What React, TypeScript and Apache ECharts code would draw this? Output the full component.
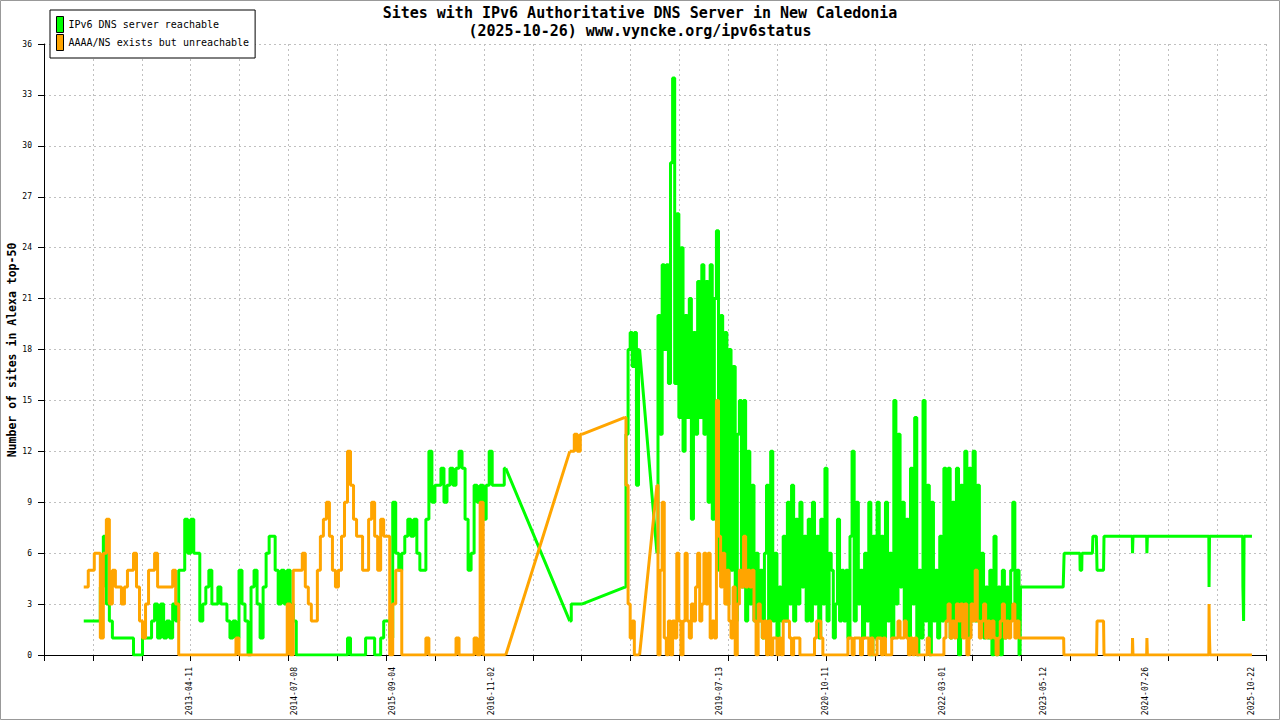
import React, { useEffect, useRef } from "react";
import * as echarts from "echarts";

const TITLE = "Sites with IPv6 Authoritative DNS Server in New Caledonia";
const SUBTITLE = "(2025-10-26) www.vyncke.org/ipv6status";
const Y_NAME = "Number of sites in Alexa top-50";
const SERIES_NAMES = ["IPv6 DNS server reachable", "AAAA/NS exists but unreachable"];
const SERIES_COLORS = ["#00ff00", "#ffa500"];

const X_LABELS = [
  "2013-04-11", "2014-07-08", "2015-09-04", "2016-11-02", "2019-07-13",
  "2020-10-11", "2022-03-01", "2023-05-12", "2024-07-26", "2025-10-22",
];
const Y_MIN = 0;
const Y_MAX = 36;
const Y_STEP = 3;

// x axis: 25 equal tick intervals of 210.8 days
const TICK_DAYS = 210.8;
const TICK_FIRST = 72;
const TICK_LAST = 97;

// Run A: 2012-01 .. 2017-01, one sample every 13 days
const RUN_A_START = "2012-01-10";
const RUN_A_STEP = 13;
const RUN_A_GREEN = [
  2, 2, 2, 2, 2, 2, 4, 7, 3, 2, 1, 1, 1, 1, 1, 1, 1, 0, 0, 0,
  1, 1, 1, 2, 3, 1, 3, 1, 2, 1, 3, 2, 5, 5, 8, 6, 8, 6, 6, 2,
  3, 4, 5, 3, 3, 4, 3, 3, 2, 1, 2, 1, 5, 3, 2, 0, 4, 5, 3, 1,
  4, 6, 7, 7, 5, 3, 5, 3, 5, 3, 2, 0, 0, 0, 0, 0, 0, 0, 0, 0,
  0, 0, 0, 0, 0, 0, 0, 0, 1, 0, 0, 0, 0, 0, 1, 1, 1, 0, 0, 1,
  2, 2, 1, 9, 6, 5, 6, 7, 8, 7, 8, 6, 5, 5, 8, 12, 9, 10, 10, 11,
  9, 10, 11, 10, 11, 12, 11, 8, 5, 6, 10, 9, 10, 8, 10, 12, 10, 10, 10, 10,
  11,
];
const RUN_A_ORANGE = [
  4, 4, 5, 5, 6, 6, 1, 6, 8, 3, 5, 4, 4, 3, 4, 5, 5, 6, 4, 2,
  1, 3, 5, 5, 6, 4, 4, 4, 4, 4, 5, 3, 0, 0, 0, 0, 0, 0, 0, 0,
  0, 0, 0, 0, 0, 0, 0, 0, 0, 0, 0, 1, 0, 0, 0, 0, 0, 0, 0, 0,
  0, 0, 0, 0, 0, 0, 0, 0, 3, 0, 5, 5, 5, 6, 4, 3, 2, 2, 5, 7,
  8, 9, 7, 5, 4, 5, 7, 9, 12, 10, 8, 7, 7, 5, 5, 8, 9, 7, 5, 8,
  7, 7, 0, 3, 5, 5, 0, 0, 0, 0, 0, 0, 0, 0, 1, 0, 0, 0, 0, 0,
  0, 0, 0, 0, 1, 0, 0, 0, 0, 0, 1, 0, 9, 0, 0, 0, 0, 0, 0, 0,
  0,
];

// Run B: short stretch in late 2017
const RUN_B_START = "2017-10-06";
const RUN_B_STEP = 13;
const RUN_B_GREEN = [2, 3, 3, 3, 3];
const RUN_B_ORANGE = [12, 12, 13, 12, 13];

// Run C: mid 2018
const RUN_C_START = "2018-06-01";
const RUN_C_STEP = 9;
const RUN_C_GREEN = [4, 13, 18, 19, 17, 19, 10, 18];
const RUN_C_ORANGE = [14, 10, 3, 1, 2, 0, 0, 0];

// Run D: 2018-10 .. 2023-01, one sample every 9 days
const RUN_D_START = "2018-10-17";
const RUN_D_STEP = 9;
const RUN_D_GREEN = [
  6, 20, 13, 23, 18, 23, 16, 29, 34, 16, 26, 14, 24, 12, 20, 14, 21, 8, 19, 13,
  22, 14, 23, 13, 22, 9, 23, 8, 21, 25, 5, 20, 6, 19, 3, 18, 5, 17, 2, 13,
  15, 4, 15, 2, 12, 3, 10, 2, 6, 2, 5, 1, 6, 10, 2, 12, 2, 6, 1, 4,
  2, 7, 2, 9, 3, 10, 2, 8, 3, 9, 4, 7, 2, 8, 2, 9, 3, 7, 1, 8,
  3, 11, 2, 6, 5, 1, 3, 8, 2, 5, 2, 5, 1, 7, 12, 2, 9, 3, 5, 1,
  6, 2, 9, 0, 7, 1, 9, 1, 7, 1, 9, 2, 6, 1, 15, 3, 13, 4, 9, 2,
  8, 1, 11, 3, 14, 0, 5, 1, 15, 2, 10, 0, 9, 2, 5, 1, 7, 2, 11, 2,
  11, 1, 9, 2, 11, 0, 10, 3, 12, 1, 11, 2, 12, 2, 10, 2, 6, 1, 4, 1,
  5, 0, 7, 0, 4, 0, 5, 1, 4, 2, 5, 9, 2, 5, 0,
];
const RUN_D_ORANGE = [
  10, 0, 5, 9, 1, 0, 2, 0, 2, 1, 6, 2, 0, 2, 6, 2, 1, 3, 2, 4,
  6, 2, 3, 6, 3, 6, 1, 2, 1, 15, 7, 4, 6, 3, 5, 2, 1, 4, 0, 3,
  5, 4, 7, 4, 5, 4, 5, 2, 0, 3, 2, 1, 2, 0, 2, 0, 1, 1, 0, 1,
  0, 2, 2, 2, 1, 0, 1, 1, 1, 0, 0, 0, 0, 0, 0, 0, 1, 2, 2, 1,
  0, 0, 0, 0, 0, 0, 0, 0, 0, 0, 0, 0, 1, 1, 0, 1, 1, 1, 0, 1,
  1, 1, 0, 1, 0, 0, 1, 1, 0, 1, 0, 0, 0, 1, 1, 1, 2, 1, 1, 2,
  1, 0, 1, 0, 1, 0, 0, 0, 0, 0, 1, 0, 0, 0, 0, 0, 0, 0, 1, 2,
  3, 1, 2, 1, 3, 2, 3, 1, 3, 0, 1, 3, 2, 5, 2, 1, 2, 3, 1, 2,
  1, 2, 1, 0, 1, 2, 3, 1, 2, 1, 2, 3, 1, 2, 1,
];

// Run E: 2023 .. 2025, steady values with short dips
const RUN_E_GREEN: [string, number][] = [
  ["2023-02-01", 4], ["2023-08-04", 4], ["2023-08-08", 6], ["2023-10-15", 6],
  ["2023-10-16", 5], ["2023-10-23", 5], ["2023-10-24", 6], ["2023-12-08", 6],
  ["2023-12-10", 7], ["2023-12-25", 7], ["2023-12-28", 5], ["2024-01-25", 5],
  ["2024-01-27", 7], ["2024-05-28", 7], ["2024-05-29", 6], ["2024-05-31", 7],
  ["2024-07-29", 7], ["2024-07-30", 6], ["2024-08-01", 7], ["2025-04-23", 7],
  ["2025-04-24", 4], ["2025-04-26", 7], ["2025-09-16", 7], ["2025-09-17", 4],
  ["2025-09-20", 2], ["2025-09-22", 7], ["2025-10-26", 7],
];
const RUN_E_ORANGE: [string, number][] = [
  ["2023-02-01", 1], ["2023-08-06", 1], ["2023-08-07", 0], ["2023-12-26", 0],
  ["2023-12-28", 2], ["2024-01-25", 2], ["2024-01-27", 0], ["2024-05-28", 0],
  ["2024-05-29", 1], ["2024-05-31", 0], ["2024-07-29", 0], ["2024-07-30", 1],
  ["2024-08-01", 0], ["2025-04-23", 0], ["2025-04-24", 3], ["2025-04-26", 1],
  ["2025-04-28", 0], ["2025-10-26", 0],
];

const DAY = 86400000;
const MONO = "'DejaVu Sans Mono', 'Liberation Mono', monospace";

type Pt = [number, number | null];

function toMs(s: string): number {
  const [y, m, d] = s.split("-").map(Number);
  return Date.UTC(y, m - 1, d);
}

function fmtDate(v: number): string {
  return new Date(v).toISOString().slice(0, 10);
}

function runPoints(start: string, step: number, values: number[]): Pt[] {
  const t0 = toMs(start);
  return values.map((v, i) => [t0 + i * step * DAY, v] as Pt);
}

// Densely sampled runs, drawn as steps; separated by breaks
function stepData(runs: [string, number, number[]][]): Pt[] {
  const out: Pt[] = [];
  runs.forEach(([s, st, vals], k) => {
    const pts = runPoints(s, st, vals);
    if (k > 0) {
      out.push([out[out.length - 1][0], null]);
      out.push([pts[0][0], null]);
    }
    out.push(...pts);
  });
  return out;
}

// Straight segments across the data gaps, plus the sparse final run
function gapData(runs: [string, number, number[]][], tail: [string, number][]): Pt[] {
  const out: Pt[] = [];
  const all = runs.map(([s, st, vals]) => runPoints(s, st, vals));
  all.push(tail.map(([d, v]) => [toMs(d), v] as Pt));
  for (let k = 0; k < all.length - 1; k++) {
    const a = all[k][all[k].length - 1];
    const b = all[k + 1][0];
    out.push(a, b);
    if (k < all.length - 2) out.push([b[0], null]);
  }
  out.push(...all[all.length - 1].slice(1));
  return out;
}

const GREEN_RUNS: [string, number, number[]][] = [
  [RUN_A_START, RUN_A_STEP, RUN_A_GREEN],
  [RUN_B_START, RUN_B_STEP, RUN_B_GREEN],
  [RUN_C_START, RUN_C_STEP, RUN_C_GREEN],
  [RUN_D_START, RUN_D_STEP, RUN_D_GREEN],
];
const ORANGE_RUNS: [string, number, number[]][] = [
  [RUN_A_START, RUN_A_STEP, RUN_A_ORANGE],
  [RUN_B_START, RUN_B_STEP, RUN_B_ORANGE],
  [RUN_C_START, RUN_C_STEP, RUN_C_ORANGE],
  [RUN_D_START, RUN_D_STEP, RUN_D_ORANGE],
];

function lineSeries(name: string, color: string, data: Pt[], step: boolean, z: number) {
  return {
    name,
    type: "line",
    data,
    step: step ? "middle" : false,
    connectNulls: false,
    showSymbol: false,
    symbol: "none",
    lineStyle: { color, width: 3 },
    itemStyle: { color },
    z,
  };
}

export default function App() {
  const ref = useRef<HTMLDivElement>(null);

  useEffect(() => {
    if (!ref.current) return;
    const chart = echarts.init(ref.current, null, { renderer: "svg" });
    const tick = TICK_DAYS * DAY;
    const gridLine = { show: true, lineStyle: { color: "#c0c0c0", width: 1, type: [2, 3] as number[] } };
    chart.setOption({
      animation: false,
      backgroundColor: "#ffffff",
      textStyle: { fontFamily: MONO },
      title: {
        text: TITLE,
        subtext: SUBTITLE,
        left: "center",
        top: 5,
        itemGap: 3,
        padding: 0,
        textStyle: { fontFamily: MONO, fontSize: 15, fontWeight: "bold", color: "#000" },
        subtextStyle: { fontFamily: MONO, fontSize: 15, fontWeight: "bold", color: "#000" },
      },
      legend: {
        orient: "vertical",
        left: 50,
        top: 10,
        padding: [6, 6, 7, 6],
        itemGap: 1,
        itemWidth: 7,
        itemHeight: 16,
        icon: "rect",
        backgroundColor: "#fff",
        borderColor: "#000",
        borderWidth: 1,
        borderRadius: 0,
        itemStyle: { borderColor: "#000", borderWidth: 1 },
        textStyle: { fontFamily: MONO, fontSize: 10, color: "#000" },
        data: SERIES_NAMES,
      },
      grid: { left: 44, right: 14, top: 44, bottom: 65, containLabel: false, outerBoundsMode: "none" },
      xAxis: {
        type: "value",
        min: TICK_FIRST * tick,
        max: TICK_LAST * tick,
        interval: tick,
        axisLine: { show: true, lineStyle: { color: "#000", width: 1 } },
        axisTick: { show: true, inside: false, length: 6, lineStyle: { color: "#000", width: 1 } },
        splitLine: gridLine,
        axisLabel: {
          customValues: X_LABELS.map(toMs),
          formatter: (v: number) => fmtDate(v),
          rotate: 90,
          fontSize: 8,
          color: "#000",
          margin: 12,
          fontFamily: MONO,
        },
      },
      yAxis: {
        type: "value",
        min: Y_MIN,
        max: Y_MAX,
        interval: Y_STEP,
        axisLine: { show: true, lineStyle: { color: "#000", width: 1 } },
        axisTick: { show: true, inside: false, length: 6, lineStyle: { color: "#000", width: 1 } },
        splitLine: gridLine,
        axisLabel: { fontSize: 8, color: "#000", margin: 12, fontFamily: MONO },
      },
      graphic: [
        {
          type: "rect",
          silent: true,
          shape: { x: 0.5, y: 0.5, width: 1279, height: 719 },
          style: { fill: "none", stroke: "#999", lineWidth: 1 },
        },
        {
          type: "text",
          silent: true,
          x: 12,
          y: 350,
          rotation: Math.PI / 2,
          style: {
            text: Y_NAME,
            fontFamily: MONO,
            fontSize: 11.5,
            fontWeight: "bold",
            fill: "#000",
            align: "center",
            verticalAlign: "middle",
          },
        },
      ],
      series: [
        lineSeries(SERIES_NAMES[0], SERIES_COLORS[0], stepData(GREEN_RUNS), true, 2),
        lineSeries(SERIES_NAMES[0], SERIES_COLORS[0], gapData(GREEN_RUNS, RUN_E_GREEN), false, 2),
        lineSeries(SERIES_NAMES[1], SERIES_COLORS[1], stepData(ORANGE_RUNS), true, 3),
        lineSeries(SERIES_NAMES[1], SERIES_COLORS[1], gapData(ORANGE_RUNS, RUN_E_ORANGE), false, 3),
      ],
    });
    return () => chart.dispose();
  }, []);

  return (
    <div
      ref={ref}
      style={{ position: "fixed", left: 0, top: 0, width: 1280, height: 720 }}
    />
  );
}
